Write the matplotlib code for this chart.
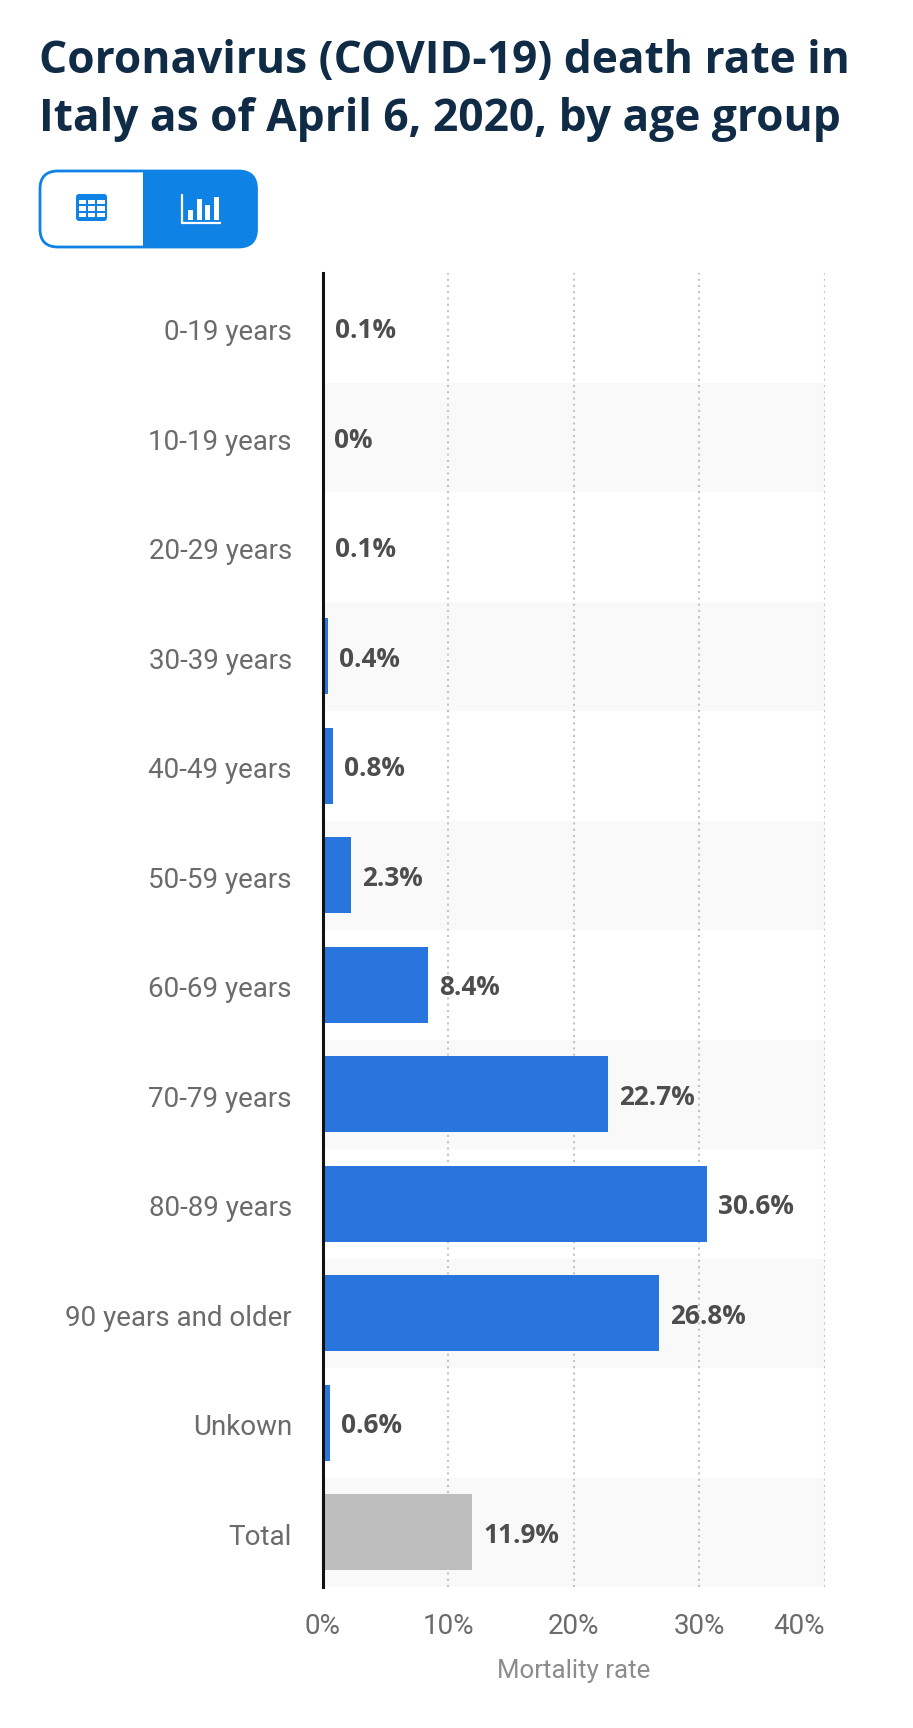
import matplotlib
matplotlib.use("Agg")
import matplotlib.pyplot as plt
from matplotlib.patches import FancyBboxPatch, Rectangle
from matplotlib.transforms import ScaledTranslation

W, H = 913, 1728

categories = ["0-19 years", "10-19 years", "20-29 years", "30-39 years", "40-49 years",
              "50-59 years", "60-69 years", "70-79 years", "80-89 years",
              "90 years and older", "Unkown", "Total"]
rates = [0.1, 0, 0.1, 0.4, 0.8, 2.3, 8.4, 22.7, 30.6, 26.8, 0.6, 11.9]
rate_labels = ["0.1%", "0%", "0.1%", "0.4%", "0.8%", "2.3%", "8.4%", "22.7%", "30.6%",
               "26.8%", "0.6%", "11.9%"]
x_ticks = [0, 10, 20, 30, 40]
x_tick_labels = ["0%", "10%", "20%", "30%", "40%"]
title_lines = ["Coronavirus (COVID-19) death rate in", "Italy as of April 6, 2020, by age group"]

BLUE = "#2876dd"
GREY = "#bebebe"
TOGGLE = "#0f82e6"

plt.rcParams["font.family"] = ["Roboto", "DejaVu Sans"]

fig = plt.figure(figsize=(W / 100, H / 100), dpi=100, facecolor="white")

# overlay in pixel coords for title and toggle
bg = fig.add_axes([0, 0, 1, 1])
bg.set_xlim(0, W)
bg.set_ylim(H, 0)
bg.axis("off")

bg.text(39, 62, title_lines[0], fontsize=31.9, fontweight="bold", family="Open Sans",
        color="#0f2b46", va="center", ha="left")
bg.text(39, 120, title_lines[1], fontsize=31.9, fontweight="bold", family="Open Sans",
        color="#0f2b46", va="center", ha="left")

# toggle button
outer = FancyBboxPatch((40, 171), 216.5, 76, boxstyle="round,pad=0,rounding_size=18",
                       fc="white", ec=TOGGLE, lw=2)
bg.add_patch(outer)
right = Rectangle((143, 169), 116, 80, fc=TOGGLE, ec="none")
bg.add_patch(right)
right.set_clip_path(outer)

# table icon
bg.add_patch(FancyBboxPatch((76, 194), 31, 27, boxstyle="round,pad=0,rounding_size=3",
                            fc=TOGGLE, ec="none"))
for cx in range(3):
    for cy in range(3):
        bg.add_patch(Rectangle((78.5 + cx * 9.2, 199.5 + cy * 6.6), 7.6, 4.6, fc="white", ec="none"))

# chart icon
bg.plot([182, 182, 221], [194, 223, 223], color="white", lw=1.6, solid_capstyle="butt")
for bx, by in zip([188, 197, 205, 214], [210, 199, 205, 197]):
    bg.add_patch(Rectangle((bx, by), 5, 220 - by, fc="white", ec="none"))

# main chart, rows 273..1587
ax = fig.add_axes([322.5 / W, 1 - 1587 / H, (825 - 322.5) / W, (1587 - 273) / H])
ax.patch.set_alpha(0)
y = list(range(len(categories)))
ax.set_xlim(0, 40)
ax.set_ylim(len(categories) - 0.5, -0.5)

for i in y:
    if i % 2 == 1:
        ax.axhspan(i - 0.5, i + 0.5, color="#f9f9f9", lw=0, zorder=0)

colors = [BLUE] * (len(rates) - 1) + [GREY]
bars = ax.barh(y, rates, height=0.695, color=colors, zorder=3)
bar_texts = ax.bar_label(bars, labels=rate_labels, padding=8, fontsize=18.8, fontweight="bold",
                         color="#4d4d4d", family="Open Sans")
# nudge value labels down a little
for t in bar_texts:
    t.xyann = (t.xyann[0], t.xyann[1] - 2)

ax.set_xticks(x_ticks)
ax.set_xticklabels(x_tick_labels)
ax.set_yticks(y)
ax.set_yticklabels(categories)
ax.tick_params(axis="both", length=0, labelsize=20, labelcolor="#6b6b6b")
ax.tick_params(axis="y", pad=22)
ax.tick_params(axis="x", pad=18.5)
ax.get_xticklabels()[-1].set_ha("right")
for lab in ax.get_yticklabels():
    lab.set_transform(lab.get_transform() + ScaledTranslation(0, -1.5 / 72, fig.dpi_scale_trans))

ax.xaxis.grid(True, color="#c4c4c4", linestyle=(0, (1, 2)), lw=1.5, zorder=1)
ax.set_axisbelow(True)
gl = ax.get_xgridlines()
gl[0].set_visible(False)

for side in ["top", "right", "bottom"]:
    ax.spines[side].set_visible(False)
ax.spines["left"].set_linewidth(2.2)
ax.spines["left"].set_color("#111111")
ax.spines["left"].set_zorder(5)

ax.set_xlabel("Mortality rate", fontsize=18.6, color="#8c8c8c", labelpad=14)

plt.savefig("out.png", dpi=100)
